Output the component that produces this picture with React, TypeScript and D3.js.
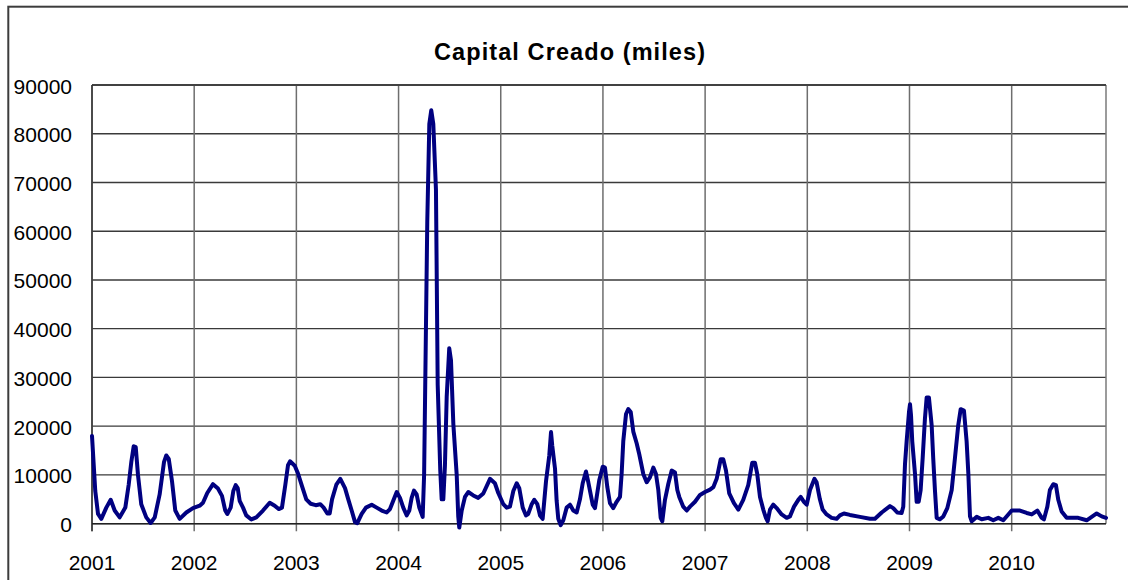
import React, { useEffect } from "react";
import * as d3 from "d3";

// Fecha (año decimal) de cada punto
const fechas: number[] = [
  2001.000, 2001.032, 2001.059, 2001.091, 2001.140, 2001.183, 2001.222, 2001.271, 2001.326, 2001.359,
  2001.385, 2001.408, 2001.428, 2001.450, 2001.482, 2001.531, 2001.574, 2001.614, 2001.662, 2001.705,
  2001.727, 2001.751, 2001.783, 2001.815, 2001.858, 2001.923, 2001.988, 2002.054, 2002.086, 2002.128,
  2002.184, 2002.233, 2002.272, 2002.304, 2002.324, 2002.357, 2002.383, 2002.406, 2002.426, 2002.445,
  2002.478, 2002.510, 2002.559, 2002.608, 2002.673, 2002.739, 2002.788, 2002.827, 2002.859, 2002.892,
  2002.918, 2002.938, 2002.984, 2003.016, 2003.055, 2003.097, 2003.140, 2003.189, 2003.234, 2003.267,
  2003.303, 2003.326, 2003.349, 2003.391, 2003.430, 2003.476, 2003.508, 2003.541, 2003.574, 2003.596,
  2003.639, 2003.681, 2003.737, 2003.786, 2003.835, 2003.884, 2003.916, 2003.948, 2003.982, 2004.014,
  2004.046, 2004.080, 2004.105, 2004.128, 2004.151, 2004.177, 2004.203, 2004.236, 2004.250, 2004.281,
  2004.301, 2004.320, 2004.340, 2004.366, 2004.383, 2004.408, 2004.422, 2004.438, 2004.454, 2004.471,
  2004.496, 2004.513, 2004.536, 2004.569, 2004.584, 2004.594, 2004.618, 2004.650, 2004.682, 2004.731,
  2004.780, 2004.829, 2004.895, 2004.943, 2004.976, 2005.025, 2005.058, 2005.090, 2005.123, 2005.156,
  2005.181, 2005.215, 2005.247, 2005.269, 2005.303, 2005.328, 2005.358, 2005.384, 2005.410, 2005.423,
  2005.443, 2005.475, 2005.492, 2005.504, 2005.531, 2005.547, 2005.563, 2005.587, 2005.612, 2005.645,
  2005.678, 2005.710, 2005.743, 2005.775, 2005.802, 2005.834, 2005.857, 2005.900, 2005.922, 2005.939,
  2005.964, 2005.998, 2006.020, 2006.043, 2006.069, 2006.101, 2006.134, 2006.167, 2006.183, 2006.199,
  2006.226, 2006.248, 2006.272, 2006.297, 2006.330, 2006.356, 2006.395, 2006.428, 2006.460, 2006.493,
  2006.519, 2006.542, 2006.565, 2006.581, 2006.607, 2006.640, 2006.673, 2006.705, 2006.728, 2006.747,
  2006.786, 2006.820, 2006.852, 2006.901, 2006.950, 2006.999, 2007.048, 2007.080, 2007.113, 2007.152,
  2007.178, 2007.204, 2007.236, 2007.282, 2007.325, 2007.373, 2007.422, 2007.461, 2007.488, 2007.510,
  2007.537, 2007.569, 2007.595, 2007.612, 2007.635, 2007.667, 2007.700, 2007.749, 2007.798, 2007.830,
  2007.870, 2007.912, 2007.935, 2007.967, 2007.994, 2008.026, 2008.070, 2008.091, 2008.123, 2008.150,
  2008.189, 2008.238, 2008.287, 2008.319, 2008.358, 2008.417, 2008.515, 2008.613, 2008.662, 2008.728,
  2008.809, 2008.841, 2008.880, 2008.923, 2008.939, 2008.956, 2008.972, 2008.995, 2009.005, 2009.015,
  2009.027, 2009.054, 2009.070, 2009.090, 2009.109, 2009.129, 2009.151, 2009.168, 2009.190, 2009.217,
  2009.232, 2009.249, 2009.266, 2009.298, 2009.331, 2009.370, 2009.413, 2009.445, 2009.477, 2009.501,
  2009.533, 2009.559, 2009.576, 2009.592, 2009.609, 2009.658, 2009.706, 2009.771, 2009.820, 2009.869,
  2009.918, 2009.967, 2010.000, 2010.081, 2010.147, 2010.196, 2010.251, 2010.294, 2010.316, 2010.349,
  2010.374, 2010.407, 2010.433, 2010.456, 2010.489, 2010.538, 2010.651, 2010.734, 2010.783, 2010.832,
  2010.881, 2010.923,
];

// Capital creado (miles)
const capital: number[] = [
  18000, 6700, 2000, 1000, 3300, 4900, 2700, 1300, 3300, 8000,
  12700, 15900, 15700, 10000, 4000, 1300, 150, 1300, 6000, 12700,
  14000, 13300, 8700, 2700, 1000, 2300, 3200, 3700, 4300, 6300,
  8100, 7200, 5700, 2700, 2000, 3300, 6700, 7900, 7300, 4700,
  3300, 1700, 870, 1300, 2700, 4300, 3700, 3000, 3300, 8000,
  12000, 12800, 11900, 10300, 7700, 5000, 4100, 3800, 4000, 3300,
  2100, 2100, 5000, 8000, 9200, 7300, 5000, 2700, 330, 100,
  2000, 3300, 3900, 3300, 2700, 2300, 3000, 4700, 6500, 5300,
  3300, 1700, 2700, 5300, 6800, 6000, 3300, 1400, 10000, 62000,
  82000, 84800, 82000, 68500, 28500, 11000, 5000, 5000, 12000, 26000,
  36000, 33500, 20500, 10000, 1500, -800, 2700, 5500, 6500, 5800,
  5300, 6200, 9200, 8300, 6300, 4000, 3300, 3500, 6700, 8300,
  7300, 3300, 1700, 2000, 4000, 4900, 4000, 1700, 1000, 4000,
  8700, 14000, 18800, 16000, 11300, 4700, 1000, -300, 700, 3300,
  3900, 2700, 2300, 5000, 8300, 10700, 8500, 3900, 3200, 5500,
  8900, 11700, 11500, 7500, 4200, 3200, 4500, 5500, 10200, 16900,
  22500, 23500, 22900, 18900, 16500, 14200, 10200, 8500, 9500, 11500,
  10200, 6900, 1200, 500, 4900, 8200, 10900, 10500, 6900, 5500,
  3500, 2700, 3500, 4500, 5900, 6500, 7000, 7500, 9200, 13200,
  13200, 10900, 6200, 4200, 2900, 4900, 7900, 12500, 12500, 10200,
  5500, 2900, 1200, 500, 2900, 3900, 3200, 1900, 1200, 1500,
  3500, 4900, 5500, 4500, 3900, 6900, 9200, 8500, 5000, 2900,
  1900, 1200, 1000, 1700, 2100, 1800, 1400, 1000, 1000, 2300,
  3600, 3200, 2300, 2200, 3500, 12200, 16900, 22900, 24500, 22200,
  16900, 10200, 4500, 4500, 6900, 13500, 21500, 25900, 25900, 20200,
  13500, 6900, 1200, 900, 1500, 3200, 6900, 13500, 20200, 23500,
  23200, 16900, 10200, 1500, 500, 1400, 900, 1200, 700, 1200,
  700, 1900, 2700, 2700, 2200, 1900, 2700, 1200, 900, 3500,
  6900, 8100, 7900, 4900, 2500, 1200, 1200, 700, 1400, 2100,
  1500, 1200,
];

const yTicks: number[] = [0, 10000, 20000, 30000, 40000, 50000, 60000, 70000, 80000, 90000];
const xTicks: number[] = [2001, 2002, 2003, 2004, 2005, 2006, 2007, 2008, 2009, 2010];
const titulo = "Capital Creado (miles)";

export default function App() {
  useEffect(() => {
    document.body.style.overflow = "hidden";
    document.documentElement.style.overflow = "hidden";
  }, []);

  const W = 1128;
  const H = 580;
  const left = 92;
  const right = 1106;
  const top = 85;
  const bottom = 523.7;

  const x = d3.scaleLinear().domain([2001, fechas[fechas.length - 1]]).range([left, right]);
  const y = d3.scaleLinear().domain([0, 90000]).range([bottom, top]);

  const pts: [number, number][] = fechas.map((f, i) => [f, capital[i]]);
  const line = d3
    .line<[number, number]>()
    .x((d) => x(d[0]))
    .y((d) => y(d[1]));

  const font = "'Liberation Sans', Arial, sans-serif";

  return (
    <svg
      width={W}
      height={H}
      style={{ position: "absolute", left: 0, top: 0, display: "block", background: "#fff" }}
    >
      <rect x={0} y={0} width={W} height={H} fill="#fff" />
      {/* chart area border */}
      <rect x={8.3} y={6.7} width={1140} height={620} fill="none" stroke="#3c3c3c" strokeWidth={2} />

      {/* horizontal gridlines */}
      {yTicks.map((t) => (
        <line key={"h" + t} x1={left} x2={right} y1={y(t)} y2={y(t)} stroke="#3a3a3a" strokeWidth={1.3} />
      ))}
      {/* vertical gridlines + ticks */}
      {xTicks.map((t) => (
        <line key={"v" + t} x1={x(t)} x2={x(t)} y1={top} y2={bottom + 7.5} stroke="#6e6e6e" strokeWidth={1.5} />
      ))}
      {/* plot border */}
      <line x1={right} x2={right} y1={top} y2={bottom} stroke="#7a7a7a" strokeWidth={1.5} />
      <line x1={left} x2={right} y1={top} y2={top} stroke="#333" strokeWidth={1.5} />
      <line x1={left} x2={left} y1={top} y2={bottom + 7.5} stroke="#333" strokeWidth={1.5} />
      <line x1={left} x2={right} y1={bottom} y2={bottom} stroke="#222" strokeWidth={1.5} />

      {/* y labels */}
      {yTicks.map((t) => (
        <text
          key={"yl" + t}
          x={72}
          y={y(t) + 8.5}
          textAnchor="end"
          fontFamily={font}
          fontSize={21}
          fill="#000"
        >
          {t}
        </text>
      ))}
      {/* x labels */}
      {xTicks.map((t) => (
        <text
          key={"xl" + t}
          x={x(t)}
          y={570}
          textAnchor="middle"
          fontFamily={font}
          fontSize={21}
          fill="#000"
        >
          {t}
        </text>
      ))}

      {/* series */}
      <path
        d={line(pts) || ""}
        fill="none"
        stroke="#000080"
        strokeWidth={4}
        strokeLinejoin="round"
        strokeLinecap="round"
      />

      {/* title */}
      <text
        x={569.5}
        y={60}
        textAnchor="middle"
        fontFamily={font}
        fontWeight="bold"
        fontSize={23.5}
        textLength={271}
        lengthAdjust="spacing"
        fill="#000"
      >
        {titulo}
      </text>
    </svg>
  );
}
